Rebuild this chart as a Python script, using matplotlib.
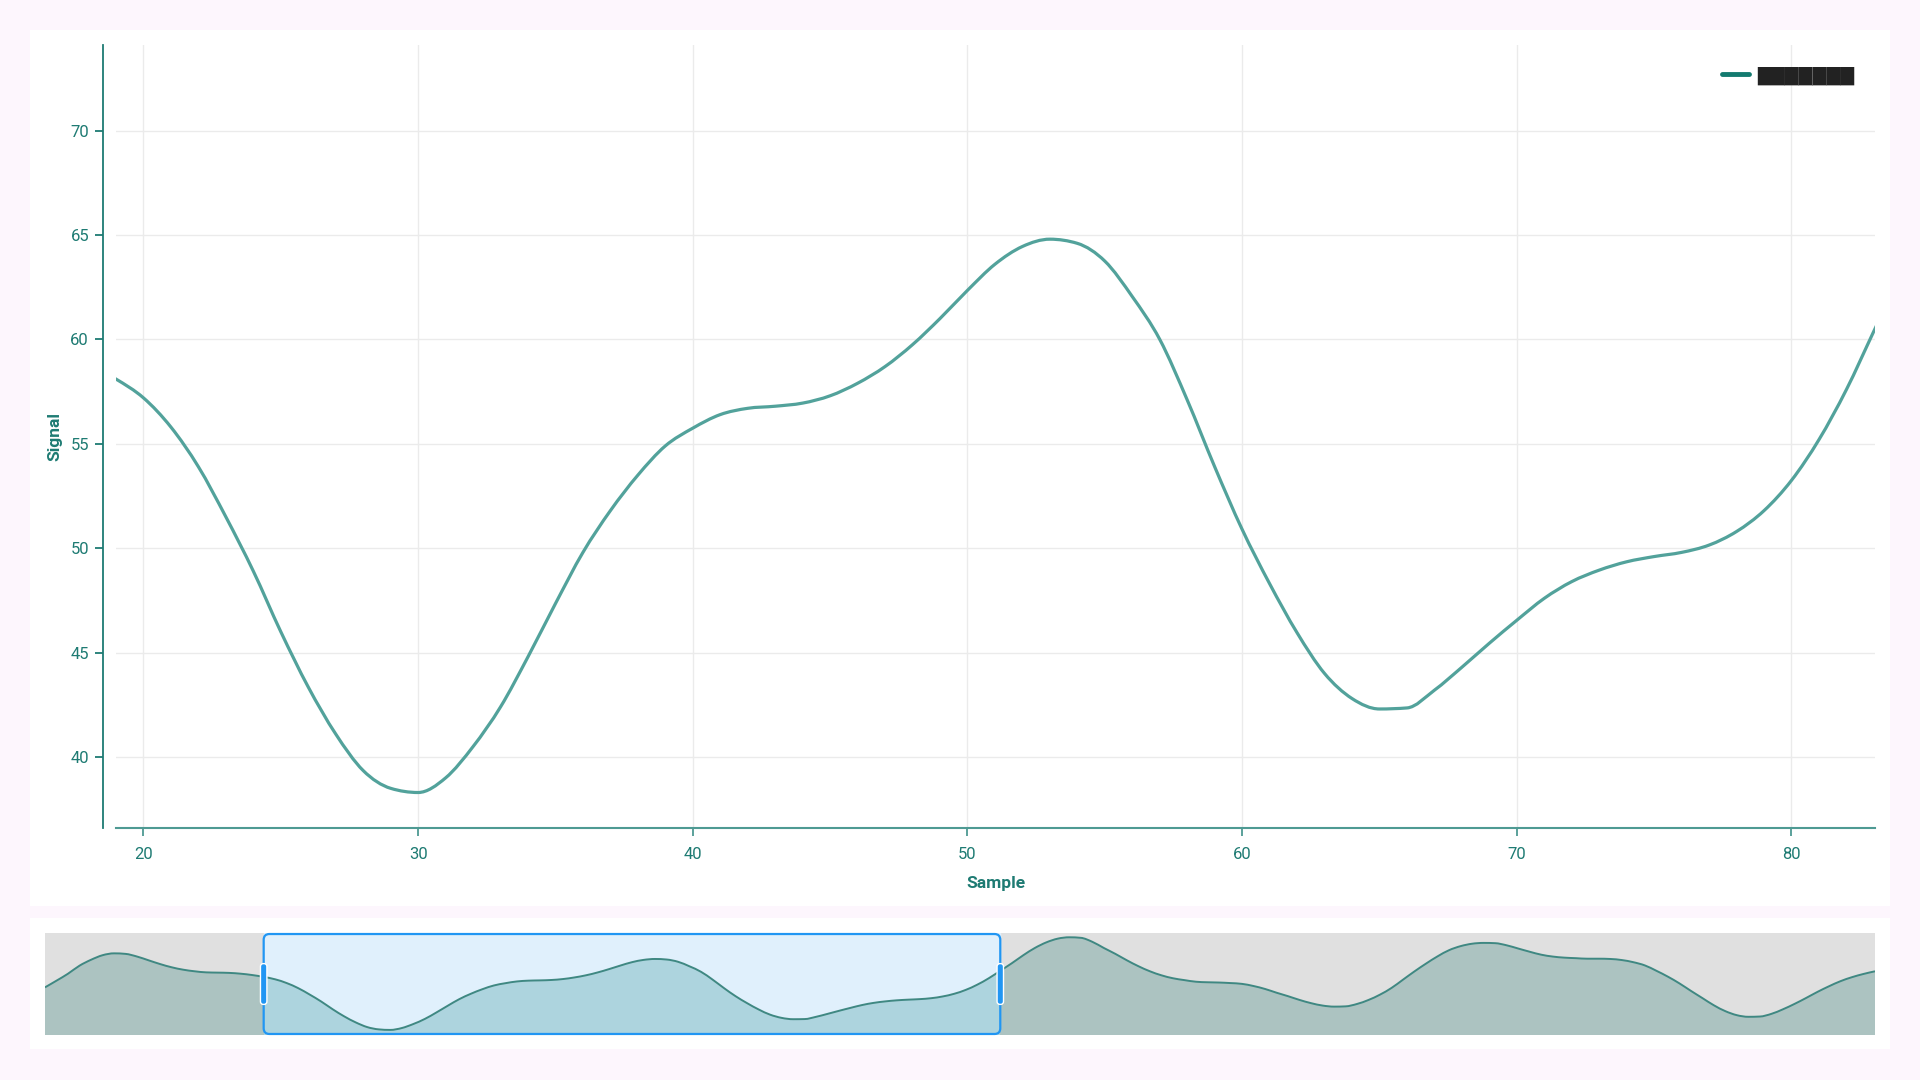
import numpy as np
import matplotlib
matplotlib.use("Agg")
import matplotlib.pyplot as plt
from matplotlib.patches import Rectangle, FancyBboxPatch, PathPatch
from matplotlib.path import Path

plt.rcParams['font.family'] = ['Roboto', 'DejaVu Sans']

# data: one value per sample 0..159
samples = list(range(160))
signal = [
    54.2, 56.7, 59.3, 62.3, 64.5, 66.2, 66.9, 66.7, 65.7, 64.3,
    62.9, 61.7, 60.8, 60.2, 59.8, 59.7, 59.6, 59.3, 58.8, 58.1,
    57.2, 55.8, 53.9, 51.5, 48.9, 46.0, 43.35, 41.1, 39.35, 38.5,
    38.3, 39.0, 40.5, 42.4, 44.8, 47.35, 49.8, 51.8, 53.5, 54.9,
    55.75, 56.4, 56.7, 56.8, 56.95, 57.3, 57.9, 58.7, 59.75, 61.0,
    62.35, 63.6, 64.45, 64.8, 64.6, 63.75, 62.05, 60.0, 57.1, 53.9,
    50.9, 48.3, 45.95, 44.0, 42.8, 42.3, 42.35, 43.2, 44.3, 45.45,
    46.55, 47.6, 48.4, 48.95, 49.35, 49.6, 49.8, 50.15, 50.8, 51.8,
    53.25, 55.2, 57.6, 60.4, 63.2, 66.2, 68.9, 71.0, 72.4, 72.9,
    72.7, 71.2, 68.9, 66.7, 64.3, 62.1, 60.2, 58.7, 57.6, 56.9,
    56.3, 56.1, 56.0, 55.8, 55.5, 54.7, 53.6, 52.2, 50.9, 49.5,
    48.3, 47.4, 47.0, 47.1, 48.0, 49.5, 51.5, 54.0, 57.1, 60.2,
    63.1, 65.8, 68.1, 69.6, 70.5, 70.8, 70.7, 69.9, 68.7, 67.5,
    66.4, 65.7, 65.3, 65.1, 64.9, 64.9, 64.8, 64.4, 63.6, 62.4,
    60.4, 58.2, 55.7, 52.9, 50.2, 47.5, 45.3, 43.8, 43.2, 43.3,
    44.3, 46.0, 48.0, 50.2, 52.5, 54.6, 56.5, 58.0, 59.2, 60.2,
]
series_name = "\u2588" * 7
window = (19, 83)
x_ticks = [20, 30, 40, 50, 60, 70, 80]
y_ticks = [40, 45, 50, 55, 60, 65, 70]

teal = "#1E7B73"
line_col = "#52A29B"


def monotone_path(x, y, base=None):
    # monotone cubic curve through the points (bezier segments)
    x = np.asarray(x, float)
    y = np.asarray(y, float)
    h = np.diff(x)
    s = np.diff(y) / h
    t = np.zeros_like(y)
    for i in range(1, len(y) - 1):
        p = (s[i-1] * h[i] + s[i] * h[i-1]) / (h[i-1] + h[i])
        t[i] = (np.sign(s[i-1]) + np.sign(s[i])) * min(abs(s[i-1]), abs(s[i]), 0.5 * abs(p))
    t[0] = (3 * s[0] - t[1]) / 2
    t[-1] = (3 * s[-1] - t[-2]) / 2
    verts = [(x[0], y[0])]
    codes = [Path.MOVETO]
    for i in range(len(x) - 1):
        d = h[i] / 3
        verts += [(x[i] + d, y[i] + d * t[i]), (x[i+1] - d, y[i+1] - d * t[i+1]), (x[i+1], y[i+1])]
        codes += [Path.CURVE4] * 3
    if base is not None:
        verts += [(x[-1], base), (x[0], base), (x[0], y[0])]
        codes += [Path.LINETO, Path.LINETO, Path.CLOSEPOLY]
    return Path(verts, codes)


fig = plt.figure(figsize=(19.2, 10.8), dpi=100, facecolor="#FDF6FD")

# white cards (behind the axes)
fig.patches.append(Rectangle((30/1920, 1-906/1080), 1860/1920, 876/1080,
                             transform=fig.transFigure, facecolor="white", edgecolor="none", zorder=-5))
fig.patches.append(Rectangle((30/1920, 1-1049/1080), 1860/1920, 131/1080,
                             transform=fig.transFigure, facecolor="white", edgecolor="none", zorder=-5))

# main chart
ax = fig.add_axes([116/1920, 1-828/1080, 1759/1920, 783/1080])
ax.set_facecolor("none")
ax.add_patch(PathPatch(monotone_path(samples, signal), facecolor="none",
                       edgecolor=line_col, lw=2.3, zorder=3))
# empty line only for the legend entry
ax.plot([], [], color="#137A6F", lw=3.5, label=series_name, solid_capstyle="round")
ax.set_xlim(window[0], 83.04)
ax.set_ylim(36.6, 74.1)
ax.set_xticks(x_ticks)
ax.set_yticks(y_ticks)
ax.grid(True, color="#EBEBEB", lw=1)
ax.set_axisbelow(True)
for s in ["top", "right"]:
    ax.spines[s].set_visible(False)
ax.spines["left"].set_position(("outward", 9.4))
ax.spines["left"].set_color(teal)
ax.spines["left"].set_linewidth(1.3)
ax.spines["bottom"].set_color("#4E9A93")
ax.spines["bottom"].set_linewidth(1.5)
ax.tick_params(axis="y", colors=teal, labelsize=12, length=6, width=1.3, pad=4)
ax.tick_params(axis="x", colors=teal, labelsize=12, length=6, width=1.3, pad=8)
ax.tick_params(axis="x", color="#4E9A93")
ax.set_xlabel("Sample", color=teal, fontsize=12.5, fontweight="bold", labelpad=10)
ax.set_ylabel("Signal", color=teal, fontsize=12.5, fontweight="bold", labelpad=6)

leg = ax.legend(loc="upper right", bbox_to_anchor=(0.9977, 0.9935), frameon=False,
                handlelength=1.5, handletextpad=0.45, prop={"family": "DejaVu Sans", "size": 13})
for t in leg.get_texts():
    t.set_color("#222222")

# overview / zoom slider
ax2 = fig.add_axes([45/1920, 1-1035/1080, 1830/1920, 102/1080])
ymin2, ymax2 = 36.4, 74.5
ax2.set_xlim(0, 159)
ax2.set_ylim(ymin2, ymax2)
ax2.set_facecolor("#E0E0E0")
ax2.axvspan(window[0], window[1], color="#E0F0FC", zorder=1)
ax2.add_patch(PathPatch(monotone_path(samples, signal, base=ymin2),
                        facecolor="#ACC3C1", edgecolor="none", zorder=2))
inner = PathPatch(monotone_path(samples, signal, base=ymin2),
                  facecolor="#ADD4DE", edgecolor="none", zorder=3)
ax2.add_patch(inner)
clip = Rectangle((window[0], ymin2), window[1] - window[0], ymax2 - ymin2, transform=ax2.transData)
inner.set_clip_path(clip)
ax2.add_patch(PathPatch(monotone_path(samples, signal), facecolor="none",
                        edgecolor="#3F8882", lw=1.4, zorder=4))
ax2.set_xticks([])
ax2.set_yticks([])
for s in ax2.spines.values():
    s.set_visible(False)

yr = ymax2 - ymin2
frame = FancyBboxPatch((window[0], ymin2 + 0.01*yr), window[1]-window[0], 0.98*yr,
                       boxstyle="round,pad=0,rounding_size=0.5", mutation_aspect=4.3,
                       facecolor="none", edgecolor="#2196F3", lw=1.6, zorder=5, clip_on=False)
ax2.add_patch(frame)
for hx in window:
    handle = FancyBboxPatch((hx - 0.28, ymin2 + 0.3*yr), 0.56, 0.4*yr,
                            boxstyle="round,pad=0,rounding_size=0.25", mutation_aspect=4.3,
                            facecolor="#2196F3", edgecolor="white", lw=1, zorder=6, clip_on=False)
    ax2.add_patch(handle)

fig.savefig("out.png", dpi=100, facecolor=fig.get_facecolor())
